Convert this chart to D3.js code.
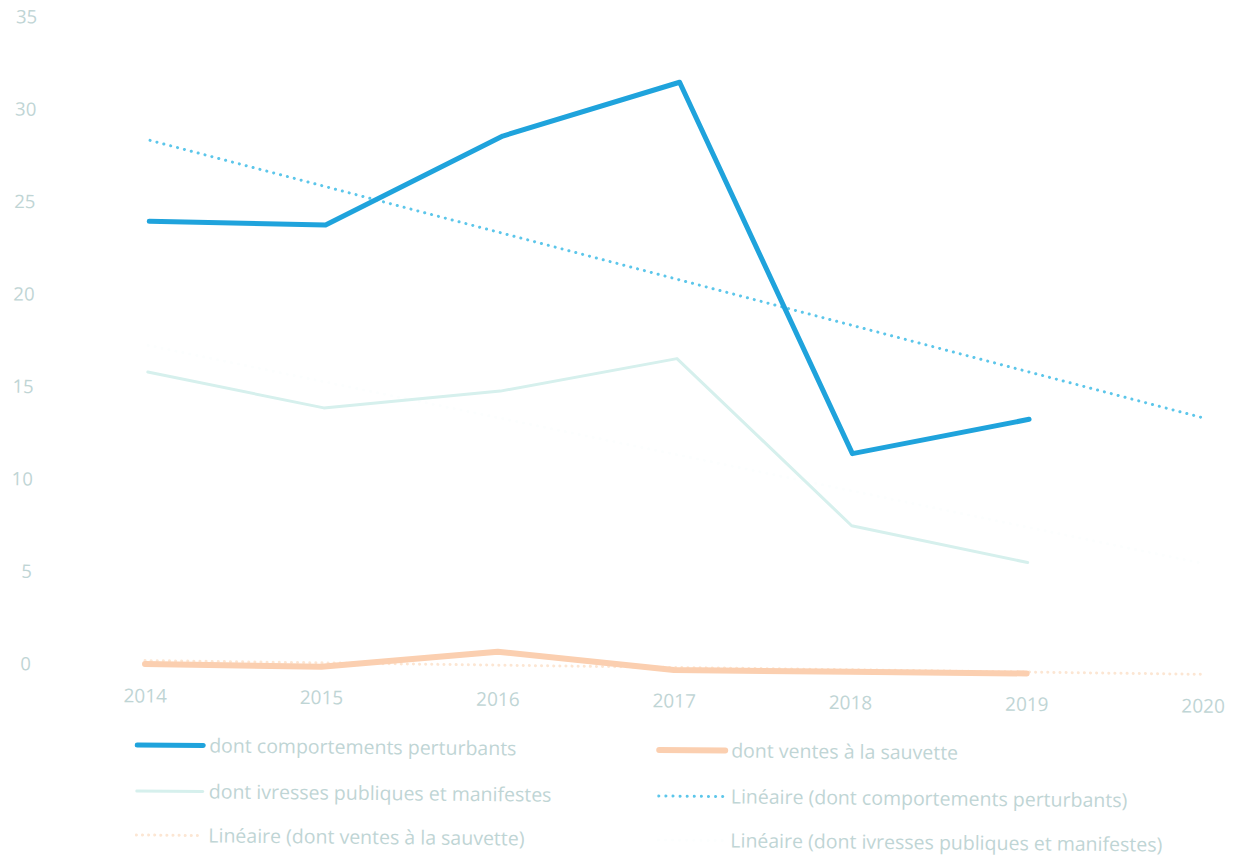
<!DOCTYPE html>
<html lang="fr">
<head>
<meta charset="utf-8">
<script src="https://cdn.jsdelivr.net/npm/d3@7"></script>
<style>
  html, body { margin: 0; padding: 0; background: #ffffff; }
  svg { display: block; }
  text { font-family: "Open Sans", "Noto Sans", sans-serif; }
</style>
</head>
<body>
<svg id="chart" width="1235" height="857"></svg>
<script>
// Years on the horizontal axis (the trend lines run one year further)
const years = [2014, 2015, 2016, 2017, 2018, 2019];
const trendYears = [2014, 2015, 2016, 2017, 2018, 2019, 2020];
const yTicks = [0, 5, 10, 15, 20, 25, 30, 35];

// Series values
const comportements = [24.0, 23.9, 28.8, 31.8, 11.8, 13.75];
const ivresses = [15.85, 14.0, 15.0, 16.85, 7.9, 6.0];
const ventes = [0.05, 0.0, 0.9, 0.0, 0.0, 0.0];

const legendLabels = [
  "dont comportements perturbants",
  "dont ventes à la sauvette",
  "dont ivresses publiques et manifestes",
  "Linéaire (dont comportements perturbants)",
  "Linéaire (dont ventes à la sauvette)",
  "Linéaire (dont ivresses publiques et manifestes)"
];

const svg = d3.select("#chart");
// the whole figure sits slightly tilted
const root = svg.append("g").attr("transform", "rotate(0.55 145 665)");

const x = d3.scaleLinear().domain([2014, 2020]).range([145, 1203]);
const y = d3.scaleLinear().domain([0, 35]).range([665, 18]);

const textColor = "#bfd5d5";

// y axis labels (no line, no ticks)
const yAxis = d3.axisLeft(y).tickValues(yTicks).tickSize(0).tickPadding(0);
const yg = root.append("g").attr("transform", "translate(31,0)").call(yAxis);
yg.select(".domain").remove();
yg.selectAll("text")
  .attr("fill", textColor)
  .style("font-size", "18.5px")
  .style("font-family", "'Open Sans', sans-serif");

// x axis labels
const xAxis = d3.axisBottom(x).tickValues(trendYears).tickFormat(d3.format("d")).tickSize(0).tickPadding(0);
const xg = root.append("g").attr("transform", "translate(0,689)").call(xAxis);
xg.select(".domain").remove();
xg.selectAll("text")
  .attr("fill", textColor)
  .style("font-size", "19px")
  .style("font-family", "'Open Sans', sans-serif");

// least-squares trend of a series, evaluated over trendYears
function linearTrend(vals) {
  const n = vals.length;
  const xs = d3.range(n);
  const mx = d3.mean(xs), my = d3.mean(vals);
  const slope = d3.sum(xs, (xi, i) => (xi - mx) * (vals[i] - my)) / d3.sum(xs, xi => (xi - mx) ** 2);
  const icpt = my - slope * mx;
  return trendYears.map((yr, i) => ({ yr, v: icpt + slope * i }));
}

const line = d3.line().x(d => x(d.yr)).y(d => y(d.v));
const pts = vals => vals.map((v, i) => ({ yr: years[i], v }));

const styles = {
  comp:   { stroke: "#1fa3dc", width: 5, dash: null },
  vent:   { stroke: "#fbcfb0", width: 6, dash: null },
  ivr:    { stroke: "#d6f0ed", width: 3, dash: null },
  compT:  { stroke: "#5cc6ea", width: 3, dash: "0.1 7" },
  ventT:  { stroke: "#fce6d3", width: 3, dash: "0.1 6" },
  ivrT:   { stroke: "#fcfefe", width: 3, dash: "0.1 7" }
};

function draw(data, st) {
  const p = root.append("path")
    .datum(data)
    .attr("d", line)
    .attr("fill", "none")
    .attr("stroke", st.stroke)
    .attr("stroke-width", st.width)
    .attr("stroke-linejoin", "round")
    .attr("stroke-linecap", "round");
  if (st.dash) p.attr("stroke-dasharray", st.dash);
}

draw(linearTrend(ivresses), styles.ivrT);
draw(linearTrend(ventes), styles.ventT);
draw(pts(ivresses), styles.ivr);
draw(pts(ventes), styles.vent);
draw(linearTrend(comportements), styles.compT);
draw(pts(comportements), styles.comp);

// legend, two columns
const legendItems = [
  { label: legendLabels[0], st: styles.comp,  col: 0, row: 0 },
  { label: legendLabels[1], st: styles.vent,  col: 1, row: 0 },
  { label: legendLabels[2], st: styles.ivr,   col: 0, row: 1 },
  { label: legendLabels[3], st: styles.compT, col: 1, row: 1 },
  { label: legendLabels[4], st: styles.ventT, col: 0, row: 2 },
  { label: legendLabels[5], st: styles.ivrT,  col: 1, row: 2 }
];
const colX = [138, 660];
const rowY = [745, 791, 835];

const lg = root.append("g");
legendItems.forEach(it => {
  const gx = colX[it.col], gy = rowY[it.row];
  const l = lg.append("line")
    .attr("x1", gx).attr("x2", gx + 66)
    .attr("y1", gy).attr("y2", gy)
    .attr("stroke", it.st.stroke)
    .attr("stroke-width", it.st.width)
    .attr("stroke-linecap", "round");
  if (it.st.dash) l.attr("stroke-dasharray", it.st.dash);
  lg.append("text")
    .attr("x", gx + 72).attr("y", gy)
    .attr("dy", "0.35em")
    .attr("fill", textColor)
    .style("font-size", "19.5px")
    .text(it.label);
});
</script>
</body>
</html>
